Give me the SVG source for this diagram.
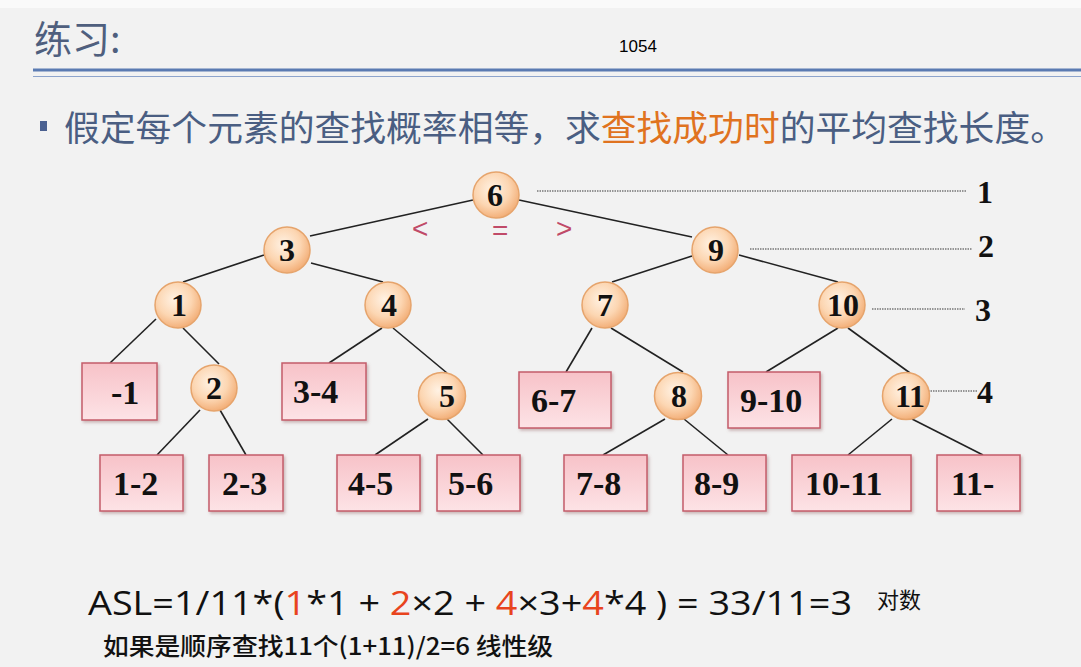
<svg xmlns="http://www.w3.org/2000/svg" width="1081" height="667" viewBox="0 0 1081 667">
<style>
.cn{font-family:"Liberation Serif","Times New Roman",serif;font-weight:bold;font-size:32px;fill:#111;text-anchor:middle}
.bx{font-family:"Liberation Serif","Times New Roman",serif;font-weight:bold;font-size:34px;fill:#111}
.lv{font-family:"Liberation Serif","Times New Roman",serif;font-weight:bold;font-size:32px;fill:#111}
.circ{fill:url(#cg);stroke:#e6a46c;stroke-width:1.5}
.box{fill:url(#bg);stroke:#c45c6a;stroke-width:1.5}
.edge{stroke:#222;stroke-width:1.6;fill:none}
.dot{stroke:#777;stroke-width:1.3;stroke-dasharray:1.5 1;fill:none}
.cmp{font-family:"Liberation Sans","DejaVu Sans",sans-serif;font-size:28px;fill:#c04a68}
</style>
<defs>
<radialGradient id="cg" cx="0.42" cy="0.38" r="0.62">
<stop offset="0" stop-color="#fff2e4"/>
<stop offset="0.6" stop-color="#fcd6b2"/>
<stop offset="1" stop-color="#f3b07a"/>
</radialGradient>
<linearGradient id="bg" x1="0" y1="0" x2="0" y2="1">
<stop offset="0" stop-color="#f7c2c8"/>
<stop offset="1" stop-color="#fde3e6"/>
</linearGradient>
<filter id="sh" x="-10%" y="-10%" width="130%" height="130%">
<feDropShadow dx="1.5" dy="2" stdDeviation="1.5" flood-color="#9a6a6e" flood-opacity="0.45"/>
</filter>
</defs>
<rect x="0" y="0" width="1081" height="667" fill="#f2f2f2"/>
<rect x="0" y="0" width="1081" height="8" fill="#fafafa"/>

<g id="header">
<text x="34" y="53" font-family="'Noto Sans CJK SC','Noto Sans',sans-serif" font-size="38" fill="#4f5f7e">练习:</text>
<text x="638" y="52" text-anchor="middle" font-family="'Liberation Sans',Arial,sans-serif" font-size="17" fill="#000">1054</text>
<line x1="33" y1="70" x2="1081" y2="70" stroke="#5b7bb2" stroke-width="3"/>
<line x1="33" y1="76.5" x2="1081" y2="76.5" stroke="#8da4cc" stroke-width="1.2"/>
<rect x="40" y="121" width="7" height="10" fill="#4a6090"/>
<text x="64" y="141" font-family="'Noto Sans CJK SC','Noto Sans',sans-serif" font-size="35" fill="#4a5e82" textLength="1002" lengthAdjust="spacingAndGlyphs">假定每个元素的查找概率相等，求<tspan fill="#e0731f">查找成功时</tspan>的平均查找长度。</text>
</g>

<g id="connectors">
<line class="edge" x1="473" y1="200" x2="310" y2="236"/>
<line class="edge" x1="519" y1="200" x2="692" y2="237"/>
<line class="edge" x1="264" y1="255" x2="183" y2="282"/>
<line class="edge" x1="311" y1="263" x2="383" y2="282"/>
<line class="edge" x1="692" y1="256" x2="612" y2="282"/>
<line class="edge" x1="739" y1="255" x2="838" y2="282"/>
<line class="edge" x1="156" y1="319" x2="110" y2="363"/>
<line class="edge" x1="183" y1="328" x2="219" y2="364"/>
<line class="edge" x1="382" y1="328" x2="329" y2="363"/>
<line class="edge" x1="393" y1="328" x2="447" y2="373"/>
<line class="edge" x1="592" y1="328" x2="566" y2="372"/>
<line class="edge" x1="611" y1="328" x2="683" y2="372"/>
<line class="edge" x1="838" y1="328" x2="766" y2="372"/>
<line class="edge" x1="848" y1="328" x2="910" y2="373"/>
<line class="edge" x1="200" y1="410" x2="157" y2="455"/>
<line class="edge" x1="220" y1="410" x2="246" y2="455"/>
<line class="edge" x1="428" y1="419" x2="375" y2="455"/>
<line class="edge" x1="447" y1="419" x2="483" y2="455"/>
<line class="edge" x1="665" y1="419" x2="603" y2="455"/>
<line class="edge" x1="684" y1="419" x2="728" y2="455"/>
<line class="edge" x1="892" y1="419" x2="848" y2="455"/>
<line class="edge" x1="912" y1="419" x2="983" y2="455"/>
</g>

<g id="levels">
<line class="dot" x1="537" y1="191" x2="967" y2="191"/>
<line class="dot" x1="750" y1="249" x2="972" y2="249"/>
<line class="dot" x1="872" y1="309" x2="965" y2="309"/>
<line class="dot" x1="928" y1="391" x2="978" y2="391"/>
<text class="lv" x="977" y="203">1</text>
<text class="lv" x="978" y="257">2</text>
<text class="lv" x="975" y="321">3</text>
<text class="lv" x="977" y="403">4</text>
</g>

<g id="compare">
<text class="cmp" x="412" y="238">&lt;</text>
<text class="cmp" x="492" y="240">=</text>
<text class="cmp" x="556" y="238">&gt;</text>
</g>

<g id="n6"><circle class="circ" cx="496" cy="195" r="23"/><text class="cn" x="495" y="206">6</text></g>
<g id="n3"><circle class="circ" cx="287" cy="250" r="23"/><text class="cn" x="287" y="261">3</text></g>
<g id="n9"><circle class="circ" cx="715" cy="250" r="23"/><text class="cn" x="716" y="261">9</text></g>
<g id="n1"><circle class="circ" cx="178" cy="305" r="23"/><text class="cn" x="179" y="316">1</text></g>
<g id="n4"><circle class="circ" cx="388" cy="305" r="23"/><text class="cn" x="389" y="316">4</text></g>
<g id="n7"><circle class="circ" cx="605" cy="305" r="23"/><text class="cn" x="605" y="316">7</text></g>
<g id="n10"><circle class="circ" cx="842" cy="305" r="23"/><text class="cn" x="843" y="316">10</text></g>
<g id="n2"><circle class="circ" cx="214" cy="388" r="23"/><text class="cn" x="214" y="399">2</text></g>
<g id="n5"><circle class="circ" cx="442" cy="396" r="23.5"/><text class="cn" x="447" y="407">5</text></g>
<g id="n8"><circle class="circ" cx="678" cy="396" r="23.5"/><text class="cn" x="679" y="407">8</text></g>
<g id="n11"><circle class="circ" cx="906" cy="396" r="23.5"/><text class="cn" x="910" y="407">11</text></g>

<g id="b_m1"><rect class="box" filter="url(#sh)" x="82" y="363" width="75" height="57"/><text class="bx" x="111" y="404">-1</text></g>
<g id="b_3_4"><rect class="box" filter="url(#sh)" x="282" y="363" width="84" height="57"/><text class="bx" x="293" y="403">3-4</text></g>
<g id="b_6_7"><rect class="box" filter="url(#sh)" x="519" y="372" width="92" height="56"/><text class="bx" x="531" y="412">6-7</text></g>
<g id="b_9_10"><rect class="box" filter="url(#sh)" x="728" y="372" width="92" height="56"/><text class="bx" x="740" y="412">9-10</text></g>
<g id="b_1_2"><rect class="box" filter="url(#sh)" x="100" y="455" width="83" height="56"/><text class="bx" x="113" y="495">1-2</text></g>
<g id="b_2_3"><rect class="box" filter="url(#sh)" x="209" y="455" width="74" height="56"/><text class="bx" x="222" y="495">2-3</text></g>
<g id="b_4_5"><rect class="box" filter="url(#sh)" x="337" y="455" width="83" height="56"/><text class="bx" x="348" y="495">4-5</text></g>
<g id="b_5_6"><rect class="box" filter="url(#sh)" x="437" y="455" width="83" height="56"/><text class="bx" x="448" y="495">5-6</text></g>
<g id="b_7_8"><rect class="box" filter="url(#sh)" x="564" y="455" width="83" height="56"/><text class="bx" x="576" y="495">7-8</text></g>
<g id="b_8_9"><rect class="box" filter="url(#sh)" x="683" y="455" width="83" height="56"/><text class="bx" x="694" y="495">8-9</text></g>
<g id="b_10_11"><rect class="box" filter="url(#sh)" x="792" y="455" width="119" height="56"/><text class="bx" x="805" y="495">10-11</text></g>
<g id="b_11_"><rect class="box" filter="url(#sh)" x="937" y="455" width="83" height="56"/><text class="bx" x="951" y="495">11-</text></g>

<g id="formula">
<text x="88" y="615" font-family="'Open Sans','Noto Sans',sans-serif" font-size="32" fill="#111" textLength="764" lengthAdjust="spacingAndGlyphs">ASL=1/11*(<tspan fill="#e8441e">1</tspan>*1 + <tspan fill="#e8441e">2</tspan>×2 + <tspan fill="#e8441e">4</tspan>×3+<tspan fill="#e8441e">4</tspan>*4 ) = 33/11=3</text>
<text x="877" y="608" font-family="'Noto Sans CJK SC',sans-serif" font-size="22" fill="#111">对数</text>
<text x="103" y="655" font-family="'Noto Sans CJK SC','Noto Sans',sans-serif" font-size="24" font-weight="500" fill="#111" textLength="450" lengthAdjust="spacingAndGlyphs">如果是顺序查找11个(1+11)/2=6 线性级</text>
</g>
</svg>
